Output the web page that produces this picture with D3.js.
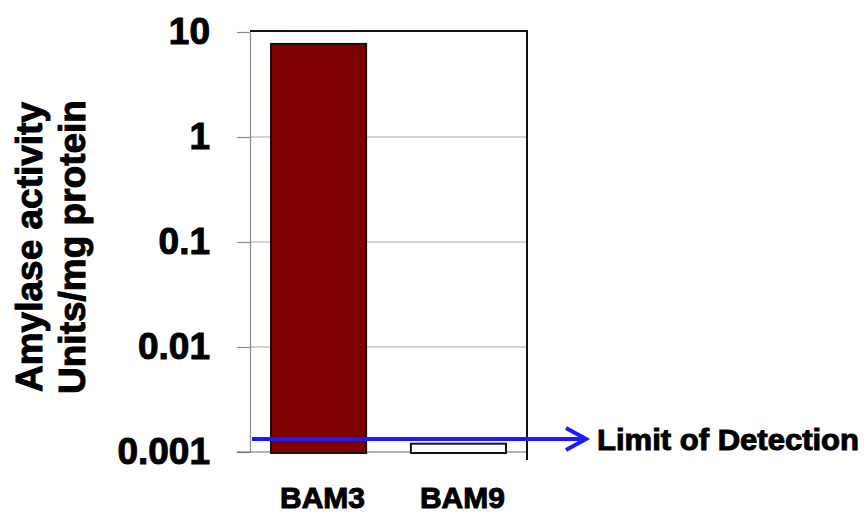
<!DOCTYPE html>
<html>
<head>
<meta charset="utf-8">
<script src="https://cdn.jsdelivr.net/npm/d3@7"></script>
<style>
  html, body { margin: 0; padding: 0; background: #fff; }
  svg text { font-family: "Liberation Sans", Arial, sans-serif; font-weight: bold; fill: #000; }
</style>
</head>
<body>
<svg id="chart" width="866" height="515"></svg>
<script>
// Amylase activity per strain (Units/mg protein), log scale
const categories = ["BAM3", "BAM9"];
const activity = [7.7, 0.0012];
const limitOfDetection = 0.00133;
const yTicks = [10, 1, 0.1, 0.01, 0.001];
const yTickLabels = ["10", "1", "0.1", "0.01", "0.001"];
const barFills = ["#7f0000", "#ffffff"];

const svg = d3.select("#chart");

const plot = { left: 250, right: 527, top: 32, bottom: 452 };

const y = d3.scaleLog()
  .domain([0.001, 10])
  .range([plot.bottom, plot.top]);

const x = d3.scaleBand()
  .domain(categories)
  .range([plot.left, plot.right])
  .paddingInner(0.32)
  .paddingOuter(0.15);

// horizontal gridlines
svg.append("g")
  .selectAll("line")
  .data(yTicks.filter(v => v > 0.001 && v < 10))
  .join("line")
  .attr("x1", plot.left).attr("x2", plot.right)
  .attr("y1", d => y(d)).attr("y2", d => y(d))
  .attr("stroke", "#a8a8a8").attr("stroke-width", 1);

// y axis
const yAxis = svg.append("g")
  .attr("transform", `translate(${plot.left},0)`)
  .call(d3.axisLeft(y)
    .tickValues(yTicks)
    .tickFormat((d, i) => yTickLabels[i])
    .tickSize(13)
    .tickPadding(27)
    .tickSizeOuter(0));
yAxis.select(".domain").attr("stroke", "#8a8a8a").attr("stroke-width", 1.2);
yAxis.selectAll(".tick line").attr("stroke", "#8a8a8a").attr("stroke-width", 1.2);
yAxis.selectAll(".tick text")
  .style("font-size", "37px")
  .attr("fill", "#000")
  .attr("stroke", "#000").attr("stroke-width", 1);

// bottom axis line
svg.append("line")
  .attr("x1", plot.left - 13).attr("x2", plot.right)
  .attr("y1", plot.bottom).attr("y2", plot.bottom)
  .attr("stroke", "#6a6a6a").attr("stroke-width", 1.2);

// frame: top and right edges
svg.append("line")
  .attr("x1", plot.left).attr("x2", plot.right + 1)
  .attr("y1", plot.top - 1).attr("y2", plot.top - 1)
  .attr("stroke", "#111").attr("stroke-width", 2);
svg.append("line")
  .attr("x1", plot.right).attr("x2", plot.right)
  .attr("y1", plot.top - 2).attr("y2", plot.bottom + 8)
  .attr("stroke", "#111").attr("stroke-width", 2);

// bars
svg.append("g")
  .selectAll("rect")
  .data(categories.map((c, i) => ({ c, v: activity[i], fill: barFills[i] })))
  .join("rect")
  .attr("x", d => x(d.c))
  .attr("width", x.bandwidth())
  .attr("y", d => y(d.v))
  .attr("height", d => y(0.001) - y(d.v) + 1)
  .attr("fill", d => d.fill)
  .attr("stroke", "#111")
  .attr("stroke-width", 2);

// category labels
svg.append("g")
  .selectAll("text")
  .data(categories)
  .join("text")
  .attr("x", d => x(d) + x.bandwidth() / 2 + 4)
  .attr("y", 508)
  .attr("text-anchor", "middle")
  .style("font-size", "30px")
  .attr("stroke", "#000").attr("stroke-width", 1)
  .text(d => d);

// limit of detection arrow
const ly = y(limitOfDetection);
svg.append("line")
  .attr("x1", plot.left + 2).attr("x2", 585)
  .attr("y1", ly).attr("y2", ly)
  .attr("stroke", "#1a1aff").attr("stroke-width", 4);
svg.append("polyline")
  .attr("points", `566,${ly - 11} 586,${ly} 566,${ly + 11}`)
  .attr("fill", "none")
  .attr("stroke", "#1a1aff").attr("stroke-width", 4)
  .attr("stroke-linejoin", "miter");
svg.append("text")
  .attr("x", 597).attr("y", ly + 3)
  .attr("dominant-baseline", "middle")
  .style("font-size", "29px")
  .attr("textLength", 262)
  .attr("lengthAdjust", "spacingAndGlyphs")
  .attr("stroke", "#000").attr("stroke-width", 1)
  .text("Limit of Detection");

// y axis title (two lines)
const title = ["Amylase activity", "Units/mg protein"];
svg.append("g")
  .selectAll("text")
  .data(title)
  .join("text")
  .attr("transform", (d, i) => `translate(${42 + i * 43},247) rotate(-90)`)
  .attr("text-anchor", "middle")
  .style("font-size", "37px")
  .attr("stroke", "#000").attr("stroke-width", 1)
  .text(d => d);
</script>
</body>
</html>
